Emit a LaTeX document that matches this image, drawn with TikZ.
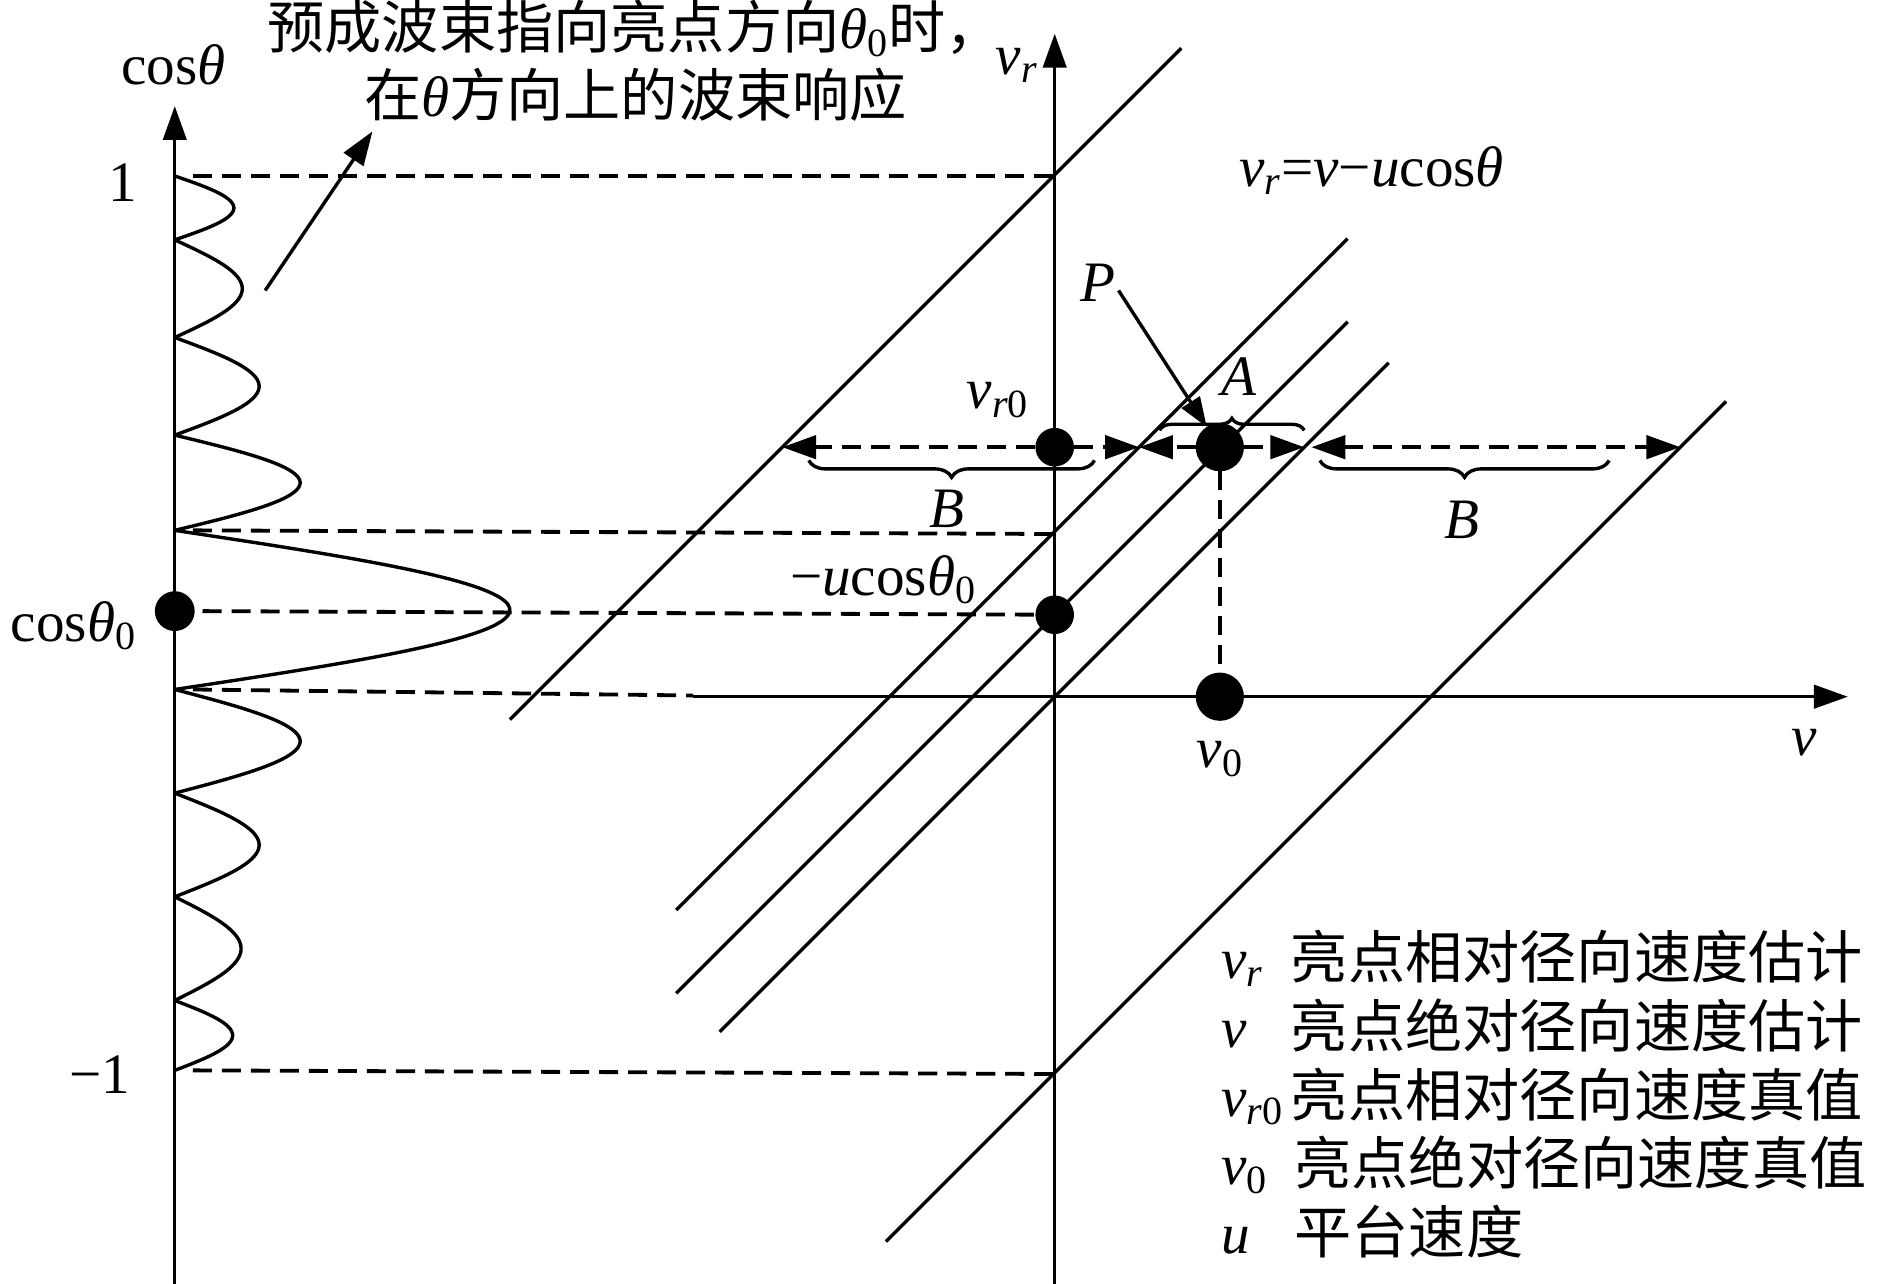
\documentclass[tikz,border=0pt]{standalone}
\usepackage{fontspec}
\setmainfont{Liberation Serif}
\newfontfamily\cjk{Noto Sans CJK SC}
\usetikzlibrary{arrows.meta,decorations.pathreplacing}
\begin{document}
\begin{tikzpicture}[x=0.02cm,y=-0.02cm,
  every node/.style={inner sep=0pt, outer sep=0pt, font=\fontsize{27}{32}\selectfont},
  ln/.style={line width=1.6pt},
  dsh/.style={line width=1.8pt, dash pattern=on 9pt off 4.7pt},
  tip/.style={-{Triangle[length=16pt,width=11pt]}},
  dtip/.style={{Triangle[length=16pt,width=11pt]}-{Triangle[length=16pt,width=11pt]}},
  blob/.style={circle, fill=black, draw=none, minimum size=#1},
  brc/.style={decorate, decoration={brace, amplitude=#1}, line width=1.6pt},
]
\useasboundingbox (0,0) rectangle (1568,1065);

% ---------- left axis and beam pattern ----------
\coordinate (Lb) at (145,1065);
\coordinate (Lt) at (145,88);
\draw[ln,tip] (Lb) -- (Lt);
\foreach \a/\b/\h in {146/199/194, 199/280/201, 280/361/215, 361/440/249,
                      440/572/423, 572/658/249, 658/744/215, 744/830/200, 830/888/193}
  \draw[ln] plot[domain=0:180,samples=50,smooth] ({145+(\h-145)*sin(\x)},{\a+(\b-\a)/180*\x});

\node[anchor=base] (lcos) at (144,70) {cos\textit{θ}};
\node[anchor=base] (lone) at (102,167) {1};
\node[anchor=base east] (lcz) at (113,532) {cos\textit{θ}\textsubscript{0}};
\node[anchor=base east] (lmone) at (108,907) {−1};

% ---------- right axes ----------
\coordinate (Vb) at (875,1065);
\coordinate (Vt) at (875,28);
\draw[ln,tip] (Vb) -- (Vt);
\coordinate (Hs) at (575,578);
\coordinate (He) at (1533,578);
\draw[ln,tip] (Hs) -- (He);
\node[anchor=base west] (lvr) at (826,62) {\textit{v}\textsubscript{\textit{r}}};
\node[anchor=base] (lv) at (1497,627) {\textit{v}};

% ---------- diagonal lines ----------
\coordinate (La1) at (423,597);  \coordinate (Lb1) at (980,40);
\coordinate (La2) at (561,755);  \coordinate (Lb2) at (1118,198);
\coordinate (La3) at (561,824);  \coordinate (Lb3) at (1118,267);
\coordinate (La4) at (597,856);  \coordinate (Lb4) at (1152,301);
\coordinate (La5) at (735,1030); \coordinate (Lb5) at (1432,333);
\foreach \i in {1,...,5} \draw[ln] (La\i) -- (Lb\i);

% ---------- dots ----------
\node[blob=0.66cm] (dC) at (145,507) {};
\node[blob=0.64cm] (dR) at (875,371) {};
\node[blob=0.64cm] (dU) at (875,510) {};
\node[blob=0.8cm] (A0) at (1012,371) {};
\node[blob=0.8cm] (V0) at (1012,578) {};

% ---------- dashed guide lines ----------
\coordinate (Da1) at (160,146); \coordinate (Db1) at (874,146);
\coordinate (Da2) at (160,440); \coordinate (Db2) at (873,443);
\coordinate (Da3) at (168,507);
\coordinate (Da4) at (160,572); \coordinate (Db4) at (575,577);
\coordinate (Da5) at (160,888); \coordinate (Db5) at (875,891);
\draw[dsh] (Da1) -- (Db1);
\draw[dsh] (Da2) -- (Db2);
\draw[dsh] (Da3) -- (dU);
\draw[dsh] (Da4) -- (Db4);
\draw[dsh] (Da5) -- (Db5);
\draw[dsh] (A0) -- (V0);

% ---------- braces ----------
\coordinate (bl1) at (671,382); \coordinate (bl2) at (908,382);
\coordinate (br1) at (1095,382); \coordinate (br2) at (1335,382);
\coordinate (ba1) at (962,357); \coordinate (ba2) at (1082,357);
\draw[brc=0.28cm, decoration={mirror}] (bl1) -- (bl2);
\draw[brc=0.28cm, decoration={mirror}] (br1) -- (br2);
\draw[brc=0.2cm] (ba1) -- (ba2);

% ---------- horizontal arrows at v_r0 ----------
\coordinate (tA) at (649,371);
\coordinate (tB) at (945,371);
\coordinate (tC) at (1082,371);
\coordinate (tD) at (1088,371);
\coordinate (tE) at (1394,371);
\draw[dsh,tip] (dR) -- (tA);
\draw[dsh,tip] (dR) -- (tB);
\draw[dsh,tip] (A0) -- (tB);
\draw[dsh,tip] (A0) -- (tC);
\draw[dsh,dtip] (tD) -- (tE);

% ---------- pointers ----------
\coordinate (ps) at (928,241);
\draw[ln,-{Triangle[length=14pt,width=10pt]}] (ps) -- (A0);
\coordinate (bs) at (220,241);
\coordinate (bt) at (309,109);
\draw[ln,tip] (bs) -- (bt);

% ---------- labels ----------
\node[anchor=base west] (t1) at (222,40) {{\cjk 预成波束指向亮点方向}\textit{θ}\textsubscript{0}{\cjk 时\makebox[0.4em][l]{，}}};
\node[anchor=base west] (t2) at (302,97) {{\cjk 在}\textit{θ}{\cjk 方向上的波束响应}};
\node[anchor=base west] (eq) at (1028,155) {\textit{v}\textsubscript{\textit{r}}=\textit{v}−\textit{u}cos\textit{θ}};
\node[anchor=base west] (lP) at (896,250) {\textit{P}};
\node[anchor=base] (lA) at (1028,328) {\textit{A}};
\node[anchor=base west] (lvrz) at (802,339) {\textit{v}\textsubscript{\textit{r}0}};
\node[anchor=base] (lB1) at (786,438) {\textit{B}};
\node[anchor=base] (lB2) at (1213,447) {\textit{B}};
\node[anchor=base east] (luc) at (810,494) {−\textit{u}cos\textit{θ}\textsubscript{0}};
\node[anchor=base west] (lvz) at (993,637) {\textit{v}\textsubscript{0}};

% ---------- legend ----------
\node[anchor=base west] (s1) at (1013,812) {\textit{v}\textsubscript{\textit{r}}};
\node[anchor=base west] (c1) at (1071,812) {\cjk 亮点相对径向速度估计};
\node[anchor=base west] (s2) at (1013,869) {\textit{v}};
\node[anchor=base west] (c2) at (1071,869) {\cjk 亮点绝对径向速度估计};
\node[anchor=base west] (s3) at (1013,926) {\textit{v}\textsubscript{\textit{r}0}};
\node[anchor=base west] (c3) at (1071,926) {\cjk 亮点相对径向速度真值};
\node[anchor=base west] (s4) at (1013,983) {\textit{v}\textsubscript{0}};
\node[anchor=base west] (c4) at (1074,983) {\cjk 亮点绝对径向速度真值};
\node[anchor=base west] (s5) at (1013,1040) {\textit{u}};
\node[anchor=base west] (c5) at (1074,1040) {\cjk 平台速度};
\end{tikzpicture}
\end{document}
